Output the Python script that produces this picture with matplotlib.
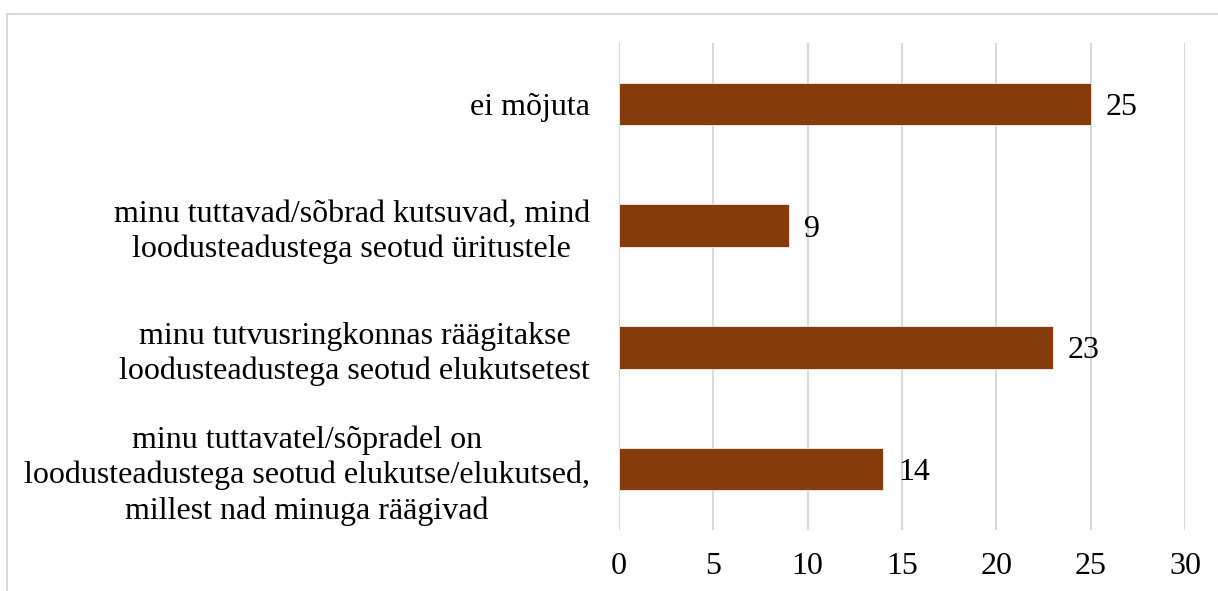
import matplotlib
matplotlib.use("Agg")
import matplotlib.pyplot as plt
from matplotlib.patches import Rectangle

categories = [
    "ei mõjuta",
    "minu tuttavad/sõbrad kutsuvad, mind\nloodusteadustega seotud üritustele",
    "minu tutvusringkonnas räägitakse\nloodusteadustega seotud elukutsetest",
    "minu tuttavatel/sõpradel on\nloodusteadustega seotud elukutse/elukutsed,\nmillest nad minuga räägivad",
]
values = [25, 9, 23, 14]
xticks = [0, 5, 10, 15, 20, 25, 30]

plt.rcParams['font.family'] = ['Liberation Serif', 'DejaVu Serif']

W, H = 1218, 591
fig = plt.figure(figsize=(W/100, H/100), dpi=100)
fig.patches.append(Rectangle((7/W, -0.1), 1.2, 1 - 14/H + 0.1, transform=fig.transFigure,
                             fill=False, edgecolor='#D9D9D9', linewidth=1.5))

ax = fig.add_axes([619/W, 1 - 530/H, (1185-619)/W, (530-43)/H])
ypos = list(range(len(categories)))
ax.barh(ypos, values, height=0.35, color='#843C0C', edgecolor='white', linewidth=0.5, zorder=3)
ax.set_ylim(len(categories) - 0.5, -0.5)
ax.set_xlim(0, 30)
ax.set_xticks(xticks)
ax.set_xticklabels([str(t) for t in xticks], fontsize=23)
ax.set_yticks(ypos)
ax.set_yticklabels(categories, fontsize=23, linespacing=1.27, multialignment='center')
ax.tick_params(axis='both', length=0)
ax.tick_params(axis='x', pad=16)
ax.tick_params(axis='y', pad=21)
for s in ax.spines.values():
    s.set_visible(False)
ax.grid(axis='x', color='#D9D9D9', linewidth=1.5, zorder=0)
for y, v in zip(ypos, values):
    ax.text(v + 0.8, y, str(v), va='center_baseline', ha='left', fontsize=23)

fig.savefig("out.png", dpi=100)
